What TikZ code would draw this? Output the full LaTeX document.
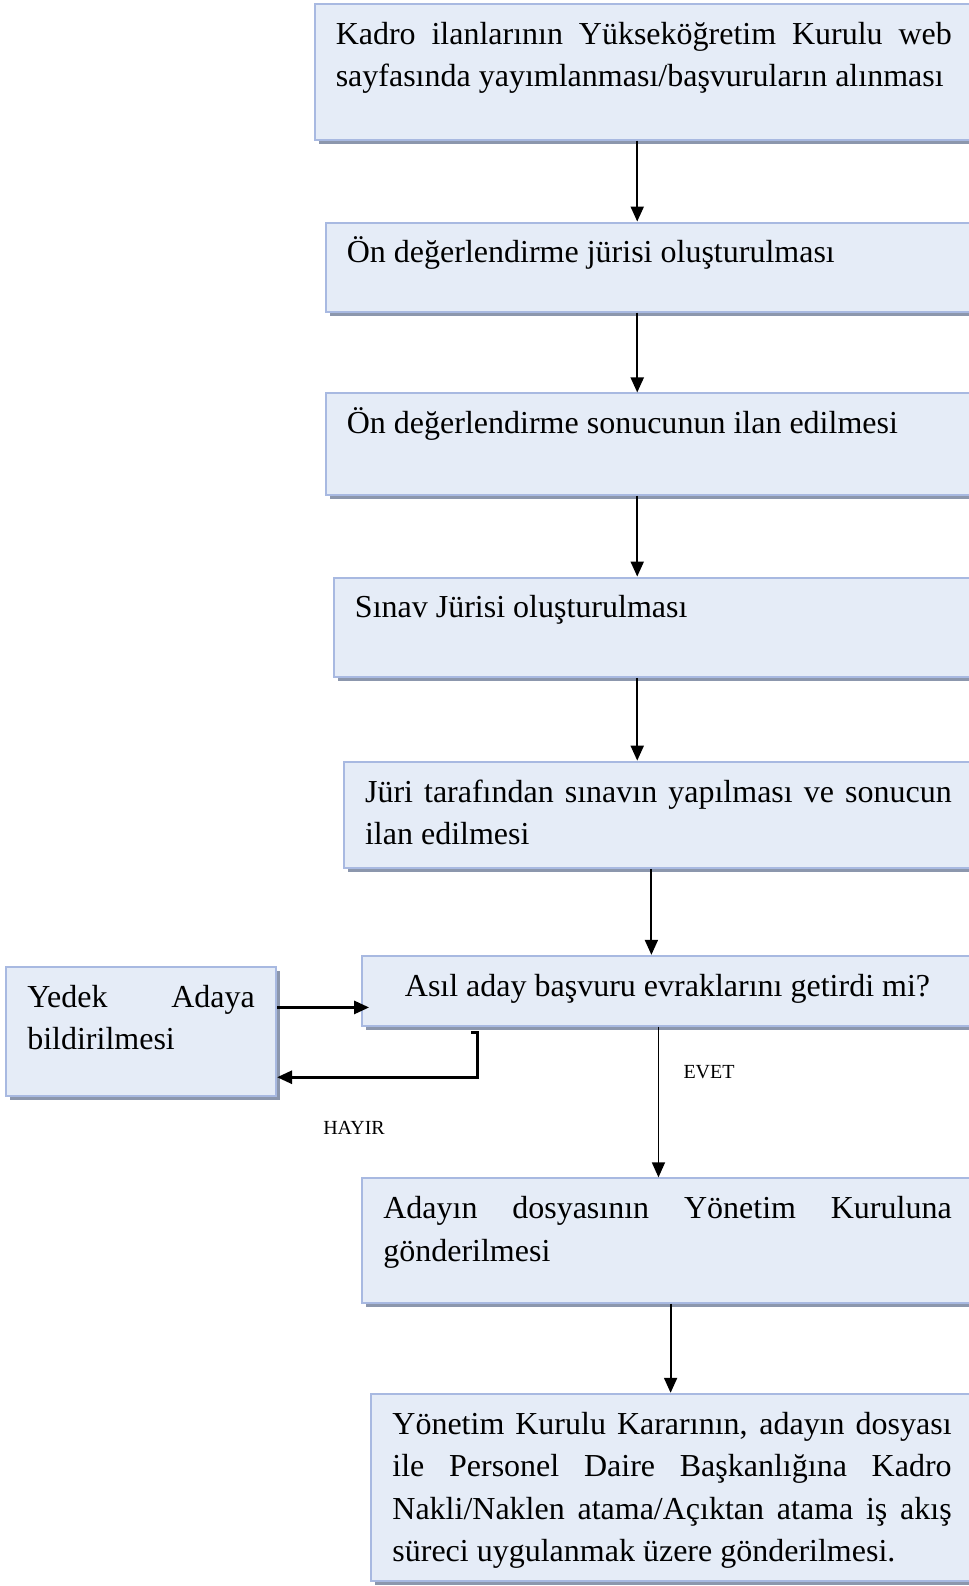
\documentclass[tikz,border=0pt]{standalone}
\usepackage{fontspec}
\setmainfont{Liberation Serif}
\usepackage{xcolor}
\usetikzlibrary{arrows.meta}
\usetikzlibrary{shadows}
\definecolor{boxfill}{RGB}{229,236,247}
\definecolor{boxline}{RGB}{168,185,225}
\definecolor{boxshade}{RGB}{140,151,173}
\newcommand{\boxtext}[3]{\parbox[c][#1][t]{#2}{\rule{0pt}{20.2pt}#3}}
\hyphenpenalty=10000
\tolerance=10000

\begin{document}
\begin{tikzpicture}[
			     x=0.5057pt, y=-0.5057pt,
			     >={Triangle[length=7.5pt,width=6.5pt]},
			     flowbox/.style={draw=boxline, line width=1pt, fill=boxfill, anchor=north west, inner xsep=10.6pt, inner ysep=0pt, font=\fontsize{16}{21.24}\selectfont, drop shadow={shadow xshift=2pt, shadow yshift=-2pt, fill=boxshade, opacity=1}},
			     wide box/.style={flowbox, execute at end node={\hspace{14.7pt}}},
			     flow/.style={->, line width=1pt},
			     flow thick/.style={->, line width=1.4pt},
			     flow thin/.style={->, line width=0.8pt},
			     tag/.style={font=\fontsize{10}{12}\selectfont, inner sep=0pt}
			     ]
\useasboundingbox (0,0) rectangle (958,1568);
\node[wide box] (b1) at (310,3) {\boxtext{67.8pt}{308pt}{Kadro ilanlarının Yükseköğretim Kurulu web\linebreak sayfasında yayımlanması/başvuruların alınması}};
\node[wide box] (b2) at (321,219) {\boxtext{44.5pt}{302.4pt}{Ön değerlendirme jürisi oluşturulması}};
\node[wide box] (b3) at (321,388) {\boxtext{50.6pt}{302.4pt}{Ön değerlendirme sonucunun ilan edilmesi}};
\node[wide box] (b4) at (329,570) {\boxtext{49.6pt}{298.4pt}{Sınav Jürisi oluşturulması}};
\node[wide box] (b5) at (339,752) {\boxtext{53.1pt}{293.3pt}{Jüri tarafından sınavın yapılması ve sonucun\linebreak ilan edilmesi}};
\node[wide box] (b6) at (357,944) {\boxtext{34.9pt}{284.2pt}{\centering Asıl aday başvuru evraklarını getirdi mi?}};
\node[flowbox] (b7) at (5,955) {\boxtext{64.7pt}{113.8pt}{Yedek Adaya\linebreak bildirilmesi}};
\node[wide box] (b8) at (357,1164) {\boxtext{62.2pt}{284.2pt}{Adayın dosyasının Yönetim Kuruluna\linebreak gönderilmesi}};
\node[wide box] (b9) at (366,1377) {\boxtext{93.6pt}{279.6pt}{Yönetim Kurulu Kararının, adayın dosyası\linebreak ile Personel Daire Başkanlığına Kadro\linebreak Nakli/Naklen atama/Açıktan atama iş akış\linebreak süreci uygulanmak üzere gönderilmesi.}};
% main chain
\draw[flow] (630,0 |- b1.south) -- (630,0 |- b2.north);
\draw[flow] (630,0 |- b2.south) -- (630,0 |- b3.north);
\draw[flow] (630,0 |- b3.south) -- (630,0 |- b4.north);
\draw[flow] (630,0 |- b4.south) -- (630,0 |- b5.north);
\draw[flow] (644,0 |- b5.south) -- (644,0 |- b6.north);
\draw[flow thin] (651,0 |- b6.south) -- (651,0 |- b8.north);
\draw[flow] (663,0 |- b8.south) -- (663,0 |- b9.north);
% HAYIR loop
\draw[flow thick, shorten >=-4pt] (b7.east |- 0,996) -- (b6.west |- 0,996);
\coordinate (hayir start) at (466,1021);
\draw[flow thick] (hayir start) -- ++(6,0) |- (b7.east |- 0,1065);
\node[tag] (evet) at (701,1060) {EVET};
\node[tag] (hayir) at (350,1115) {HAYIR};
\end{tikzpicture}
\end{document}
